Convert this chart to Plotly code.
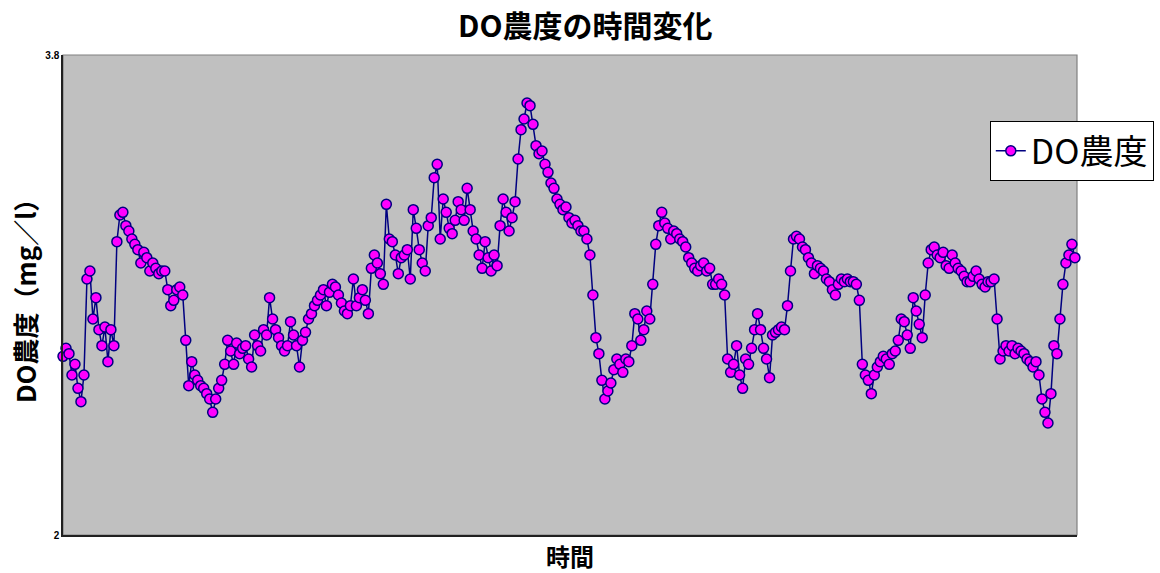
import plotly.graph_objects as go

# DO concentration (mg/l), sampled at equal time steps
do_values = [
    2.67, 2.70, 2.68, 2.60, 2.64, 2.55, 2.50, 2.60,
    2.96, 2.99, 2.81, 2.89, 2.77, 2.71, 2.78, 2.65, 2.77, 2.71,
    3.10, 3.20, 3.21, 3.16, 3.14, 3.11, 3.09, 3.07, 3.02, 3.06,
    3.04, 2.99, 3.02, 3.00, 2.98, 2.99, 2.99, 2.92, 2.86, 2.88,
    2.92, 2.93, 2.90,
    2.73, 2.56, 2.65, 2.60, 2.58, 2.56, 2.55, 2.53, 2.51, 2.46,
    2.51, 2.55, 2.58, 2.64, 2.73, 2.69, 2.64, 2.72, 2.68, 2.70,
    2.71, 2.66, 2.63, 2.75, 2.71, 2.69, 2.77, 2.75, 2.89, 2.81,
    2.77, 2.74, 2.71, 2.69, 2.71, 2.80, 2.75, 2.71, 2.63,
    2.73, 2.76, 2.81, 2.83, 2.86, 2.88, 2.90, 2.92, 2.86, 2.91,
    2.94, 2.93, 2.90, 2.87, 2.84, 2.83, 2.86, 2.96, 2.86, 2.89,
    2.92, 2.88, 2.83, 3.00, 3.05, 3.02, 2.98, 2.94,
    3.24, 3.11, 3.10, 3.05, 2.98, 3.04, 3.05, 3.07, 2.96, 3.22,
    3.15, 3.07, 3.02, 2.99, 3.16, 3.19, 3.34, 3.39, 3.11, 3.26,
    3.21, 3.15, 3.13, 3.18, 3.25, 3.22, 3.18, 3.30, 3.22, 3.14,
    3.11, 3.05, 3.00, 3.10, 3.04, 2.99, 3.05, 3.01, 3.16, 3.26,
    3.21, 3.14, 3.19, 3.25,
    3.41, 3.52, 3.56, 3.62, 3.61, 3.54, 3.46, 3.43, 3.44, 3.39,
    3.36, 3.32, 3.30, 3.26, 3.24, 3.22, 3.23, 3.19, 3.17, 3.18,
    3.16, 3.14, 3.14, 3.11, 3.05,
    2.90, 2.74, 2.68, 2.58, 2.51, 2.54, 2.57, 2.62, 2.66, 2.64,
    2.61, 2.66, 2.65, 2.71, 2.83, 2.81, 2.73, 2.77, 2.84, 2.81,
    2.94,
    3.09, 3.16, 3.21, 3.17, 3.15, 3.11, 3.14, 3.13, 3.11, 3.10,
    3.08, 3.04, 3.02, 3.00, 2.99, 3.01, 3.02, 2.99, 3.00, 2.94,
    2.94, 2.96, 2.94, 2.90,
    2.66, 2.61, 2.64, 2.71, 2.60, 2.55, 2.66, 2.64, 2.70, 2.77,
    2.83, 2.77, 2.70, 2.66, 2.59, 2.75, 2.76, 2.77, 2.78, 2.77,
    2.86,
    2.99, 3.11, 3.12, 3.11, 3.08, 3.07, 3.04, 3.02, 2.98, 3.01,
    3.00, 2.99, 2.96, 2.95, 2.92, 2.90, 2.94, 2.96, 2.95, 2.96,
    2.95, 2.95, 2.94, 2.88,
    2.64, 2.60, 2.58, 2.53, 2.60, 2.63, 2.65, 2.67, 2.66, 2.64,
    2.68, 2.69, 2.73, 2.81, 2.80, 2.75, 2.70, 2.89, 2.84, 2.79,
    2.74, 2.90,
    3.02, 3.07, 3.08, 3.05, 3.04, 3.06, 3.01, 3.00, 3.05, 3.02,
    3.00, 2.99, 2.97, 2.95, 2.95, 2.97, 2.99, 2.96, 2.94, 2.93,
    2.95, 2.95, 2.96,
    2.81, 2.66, 2.69, 2.71, 2.69, 2.71, 2.68, 2.70, 2.69, 2.68,
    2.66, 2.65, 2.63, 2.65, 2.60, 2.51, 2.46, 2.42, 2.53, 2.71,
    2.68, 2.81, 2.94, 3.02, 3.05, 3.09, 3.04,
]
time_index = list(range(1, len(do_values) + 1))

y_tick_values = [2, 3.8]
y_tick_labels = ["2", "3.8"]

series_name = "DO農度"
chart_title = "DO農度の時間変化"
x_title = "時間"
y_title = "DO農度（mg／l）"

jp_font = "Noto Sans CJK JP"
navy = "#000080"

fig = go.Figure()
fig.add_trace(go.Scatter(
    x=time_index,
    y=do_values,
    mode="lines+markers",
    name=series_name,
    line=dict(color=navy, width=1.5),
    marker=dict(size=10, color="#FF00FF", line=dict(color=navy, width=1.5)),
    cliponaxis=False,
))

fig.update_layout(
    width=1160,
    height=573,
    margin=dict(l=63, r=83, t=55, b=38, autoexpand=False),
    paper_bgcolor="white",
    plot_bgcolor="#C0C0C0",
    showlegend=True,
    legend=dict(
        x=0.914, y=0.862, xanchor="left", yanchor="top",
        bgcolor="white", bordercolor="black", borderwidth=1,
        font=dict(family=jp_font, size=34, color="black"),
        itemwidth=30, tracegroupgap=0,
    ),
    xaxis=dict(
        range=[1, len(do_values) + 0.7],
        showgrid=False, zeroline=False,
        showticklabels=False, ticks="",
        showline=True, linecolor="#202020", linewidth=1.5,
    ),
    yaxis=dict(
        range=[2, 3.8],
        tickvals=y_tick_values, ticktext=y_tick_labels,
        showgrid=False, zeroline=False, ticks="",
        tickfont=dict(family="Liberation Sans", size=10, color="black", weight="bold"),
        showline=True, linecolor="#202020", linewidth=1.5,
    ),
    shapes=[dict(
        type="rect", xref="paper", yref="paper", x0=0, y0=0, x1=1, y1=1,
        line=dict(color="#808080", width=1.2), layer="below",
    )],
    annotations=[
        dict(text=chart_title, xref="paper", yref="paper", x=0.515, y=1.0,
             yshift=31, xanchor="center", yanchor="middle", showarrow=False,
             font=dict(family=jp_font, size=30, color="black", weight="bold")),
        dict(text=x_title, xref="paper", yref="paper", x=0.5, y=0,
             yshift=-20, xanchor="center", yanchor="middle", showarrow=False,
             font=dict(family=jp_font, size=24, color="black", weight="bold")),
        dict(text=y_title, xref="paper", yref="paper", x=0, y=0.5,
             xshift=-39, yshift=0, xanchor="center", yanchor="middle", showarrow=False,
             textangle=-90,
             font=dict(family=jp_font, size=26, color="black", weight="bold")),
    ],
)

fig.write_html("out.html")
